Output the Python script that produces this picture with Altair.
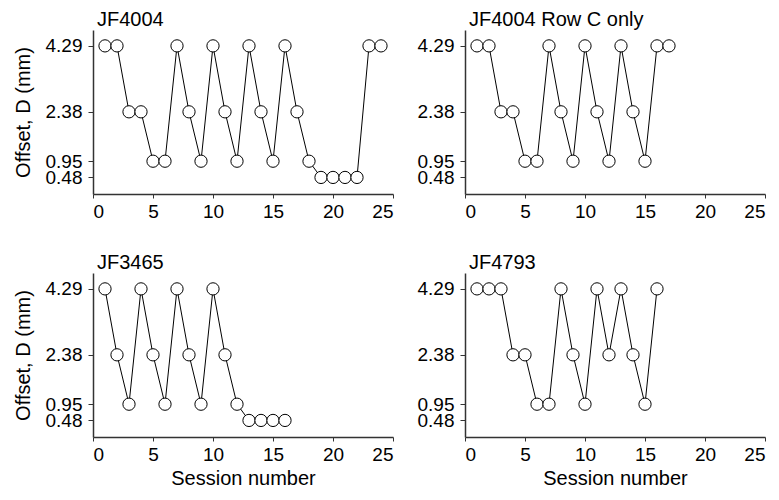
import altair as alt
import pandas as pd

FONT = "Liberation Sans"

sessions_a = list(range(1, 25))
offset_a = [4.29, 4.29, 2.38, 2.38, 0.95, 0.95, 4.29, 2.38, 0.95, 4.29, 2.38, 0.95,
            4.29, 2.38, 0.95, 4.29, 2.38, 0.95, 0.48, 0.48, 0.48, 0.48, 4.29, 4.29]

sessions_b = list(range(1, 18))
offset_b = [4.29, 4.29, 2.38, 2.38, 0.95, 0.95, 4.29, 2.38, 0.95, 4.29, 2.38, 0.95,
            4.29, 2.38, 0.95, 4.29, 4.29]

sessions_c = list(range(1, 17))
offset_c = [4.29, 2.38, 0.95, 4.29, 2.38, 0.95, 4.29, 2.38, 0.95, 4.29, 2.38, 0.95,
            0.48, 0.48, 0.48, 0.48]

sessions_d = list(range(1, 17))
offset_d = [4.29, 4.29, 4.29, 2.38, 2.38, 0.95, 0.95, 4.29, 2.38, 0.95, 4.29, 2.38,
            4.29, 2.38, 0.95, 4.29]

y_ticks = [0.48, 0.95, 2.38, 4.29]
x_ticks = [0, 5, 10, 15, 20, 25]


def panel(sessions, offsets, title, ytitle, xtitle):
    df = pd.DataFrame({"session": sessions, "offset": offsets})
    x = alt.X("session:Q",
              scale=alt.Scale(domain=[0, 25], nice=False, zero=False),
              axis=alt.Axis(values=x_ticks, title=xtitle, format="d",
                            labelOverlap=False, labelPadding=4, tickSize=4))
    y = alt.Y("offset:Q",
              scale=alt.Scale(domain=[0, 4.75], nice=False),
              axis=alt.Axis(values=y_ticks, title=ytitle, format=".2f",
                            labelOverlap=False, titlePadding=12,
                            labelPadding=6, tickSize=5))
    base = alt.Chart(df).encode(x=x, y=y)
    line = base.mark_line(color="black", strokeWidth=1)
    pts = base.mark_point(filled=True, fill="white", stroke="black",
                          strokeWidth=1, size=150, opacity=1, shape="circle")
    return alt.layer(line, pts).properties(
        width=300, height=164,
        title=alt.TitleParams(text=title, anchor="start", fontSize=20,
                              fontWeight="normal", font=FONT, dx=4, offset=0,
                              color="black", frame="group"))


p1 = panel(sessions_a, offset_a, "JF4004", "Offset, D (mm)", None)
p2 = panel(sessions_b, offset_b, "JF4004 Row C only", None, None)
p3 = panel(sessions_c, offset_c, "JF3465", "Offset, D (mm)", "Session number")
p4 = panel(sessions_d, offset_d, "JF4793", None, "Session number")

chart = alt.vconcat(
    alt.hconcat(p1, p2, spacing=23),
    alt.hconcat(p3, p4, spacing=23),
    spacing=32,
).properties(
    padding={"left": 5, "top": 2, "right": 0, "bottom": 0}
).configure(background="white").configure_view(stroke=None).configure_axis(
    grid=False,
    domainColor="#333333",
    domainWidth=1.5,
    tickColor="#333333",
    labelFont=FONT,
    labelFontSize=19,
    labelColor="black",
    titleFont=FONT,
    titleFontSize=20,
    titleFontWeight="normal",
    titleColor="black",
)

chart.save("out.html", embed_options={"renderer": "svg", "actions": False})
